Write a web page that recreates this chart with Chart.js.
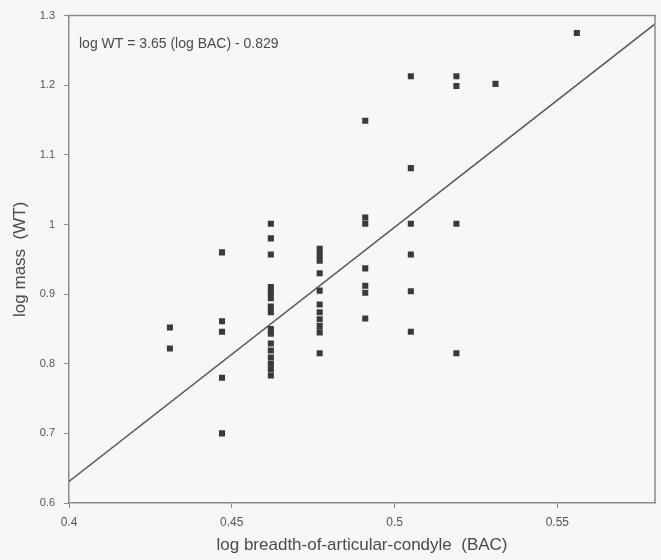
<!DOCTYPE html>
<html>
<head>
<meta charset="utf-8">
<script src="https://cdn.jsdelivr.net/npm/chart.js@4.4.0/dist/chart.umd.min.js"></script>
<style>
  html, body { margin: 0; padding: 0; background: #f7f7f5; }
  #wrap { width: 661px; height: 560px; }
</style>
</head>
<body>
<div id="wrap"><canvas id="c" width="661" height="560"></canvas></div>
<script>
// log BAC values (x) and log WT values (y)
const bacValues = [
    0.431, 0.431,
    0.447, 0.447, 0.447, 0.447, 0.447,
    0.462, 0.462, 0.462, 0.462, 0.462, 0.462, 0.462, 0.462, 0.462, 0.462, 0.462, 0.462, 0.462, 0.462, 0.462, 0.462,
    0.477, 0.477, 0.477, 0.477, 0.477, 0.477, 0.477, 0.477, 0.477, 0.477, 0.477,
    0.491, 0.491, 0.491, 0.491, 0.491, 0.491, 0.491,
    0.505, 0.505, 0.505, 0.505, 0.505, 0.505,
    0.519, 0.519, 0.519, 0.519,
    0.531,
    0.556
];
const wtValues = [
    0.852, 0.822,
    0.960, 0.861, 0.846, 0.780, 0.700,
    1.001, 0.980, 0.957, 0.910, 0.902, 0.894, 0.882, 0.874, 0.850, 0.843, 0.829, 0.819, 0.809, 0.800, 0.792, 0.783,
    0.965, 0.956, 0.948, 0.930, 0.905, 0.885, 0.874, 0.864, 0.854, 0.845, 0.815,
    1.149, 1.010, 1.001, 0.937, 0.912, 0.902, 0.865,
    1.213, 1.081, 1.001, 0.957, 0.904, 0.846,
    1.213, 1.199, 1.001, 0.815,
    1.202,
    1.275
];
const xTicks = [0.4, 0.45, 0.5, 0.55];
const yTicks = [0.6, 0.7, 0.8, 0.9, 1, 1.1, 1.2, 1.3];
const slope = 3.65;
const intercept = -0.829;
const xMin = 0.4, xMax = 0.58;
const equationText = 'log WT = 3.65 (log BAC) - 0.829';

const points = bacValues.map((x, i) => ({ x: x, y: wtValues[i] }));
const fitLine = [xMin, xMax].map(x => ({ x: x, y: slope * x + intercept }));

const axisColor = '#8a8a8a';
const textColor = '#555555';

const boxAndLabel = {
    id: 'boxAndLabel',
    afterDraw(chart) {
        const { ctx, chartArea: a } = chart;
        ctx.save();
        ctx.strokeStyle = axisColor;
        ctx.lineWidth = 1.5;
        ctx.beginPath();
        ctx.moveTo(a.left, a.top);
        ctx.lineTo(a.right, a.top);
        ctx.lineTo(a.right, a.bottom);
        ctx.stroke();
        ctx.fillStyle = '#4a4a4a';
        ctx.font = '14px "Liberation Sans", Arial, sans-serif';
        ctx.textBaseline = 'middle';
        ctx.fillText(equationText, a.left + 10, a.top + 29);
        ctx.restore();
    }
};

new Chart(document.getElementById('c'), {
    data: {
        datasets: [
            {
                type: 'line',
                data: fitLine,
                borderColor: '#5c5c5c',
                borderWidth: 1.5,
                pointRadius: 0,
                fill: false,
                order: 2
            },
            {
                type: 'scatter',
                data: points,
                pointStyle: 'rect',
                pointRadius: 4.3,
                backgroundColor: '#3a3a3a',
                borderWidth: 0,
                order: 1
            }
        ]
    },
    options: {
        responsive: false,
        animation: false,
        layout: { padding: { top: 14, right: 6, left: 0, bottom: 0 } },
        plugins: {
            legend: { display: false },
            tooltip: { enabled: false }
        },
        scales: {
            x: {
                type: 'linear',
                min: xMin,
                max: xMax,
                afterBuildTicks: s => { s.ticks = xTicks.map(v => ({ value: v })); },
                afterFit: s => { s.height = 57; },
                border: { display: true, color: axisColor, width: 1.5 },
                grid: { display: true, drawOnChartArea: false, drawTicks: true, tickLength: 5, color: axisColor },
                ticks: {
                    color: textColor,
                    font: { family: '"Liberation Sans", Arial, sans-serif', size: 12 },
                    padding: 7,
                    maxRotation: 0,
                    callback: v => String(v)
                },
                title: {
                    display: true,
                    text: 'log breadth-of-articular-condyle  (BAC)',
                    color: '#4a4a4a',
                    font: { family: '"Liberation Sans", Arial, sans-serif', size: 17 },
                    padding: { top: 0 }
                }
            },
            y: {
                type: 'linear',
                min: 0.6,
                max: 1.3,
                afterBuildTicks: s => { s.ticks = yTicks.map(v => ({ value: v })); },
                afterFit: s => { s.width = 69; },
                border: { display: true, color: axisColor, width: 1.5 },
                grid: { display: true, drawOnChartArea: false, drawTicks: true, tickLength: 5, color: axisColor },
                ticks: {
                    color: textColor,
                    font: { family: '"Liberation Sans", Arial, sans-serif', size: 11 },
                    padding: 9,
                    callback: v => String(v)
                },
                title: {
                    display: true,
                    text: 'log mass  (WT)',
                    color: '#4a4a4a',
                    font: { family: '"Liberation Sans", Arial, sans-serif', size: 17 },
                    padding: { top: 10, bottom: 0 }
                }
            }
        }
    },
    plugins: [boxAndLabel]
});
</script>
</body>
</html>
